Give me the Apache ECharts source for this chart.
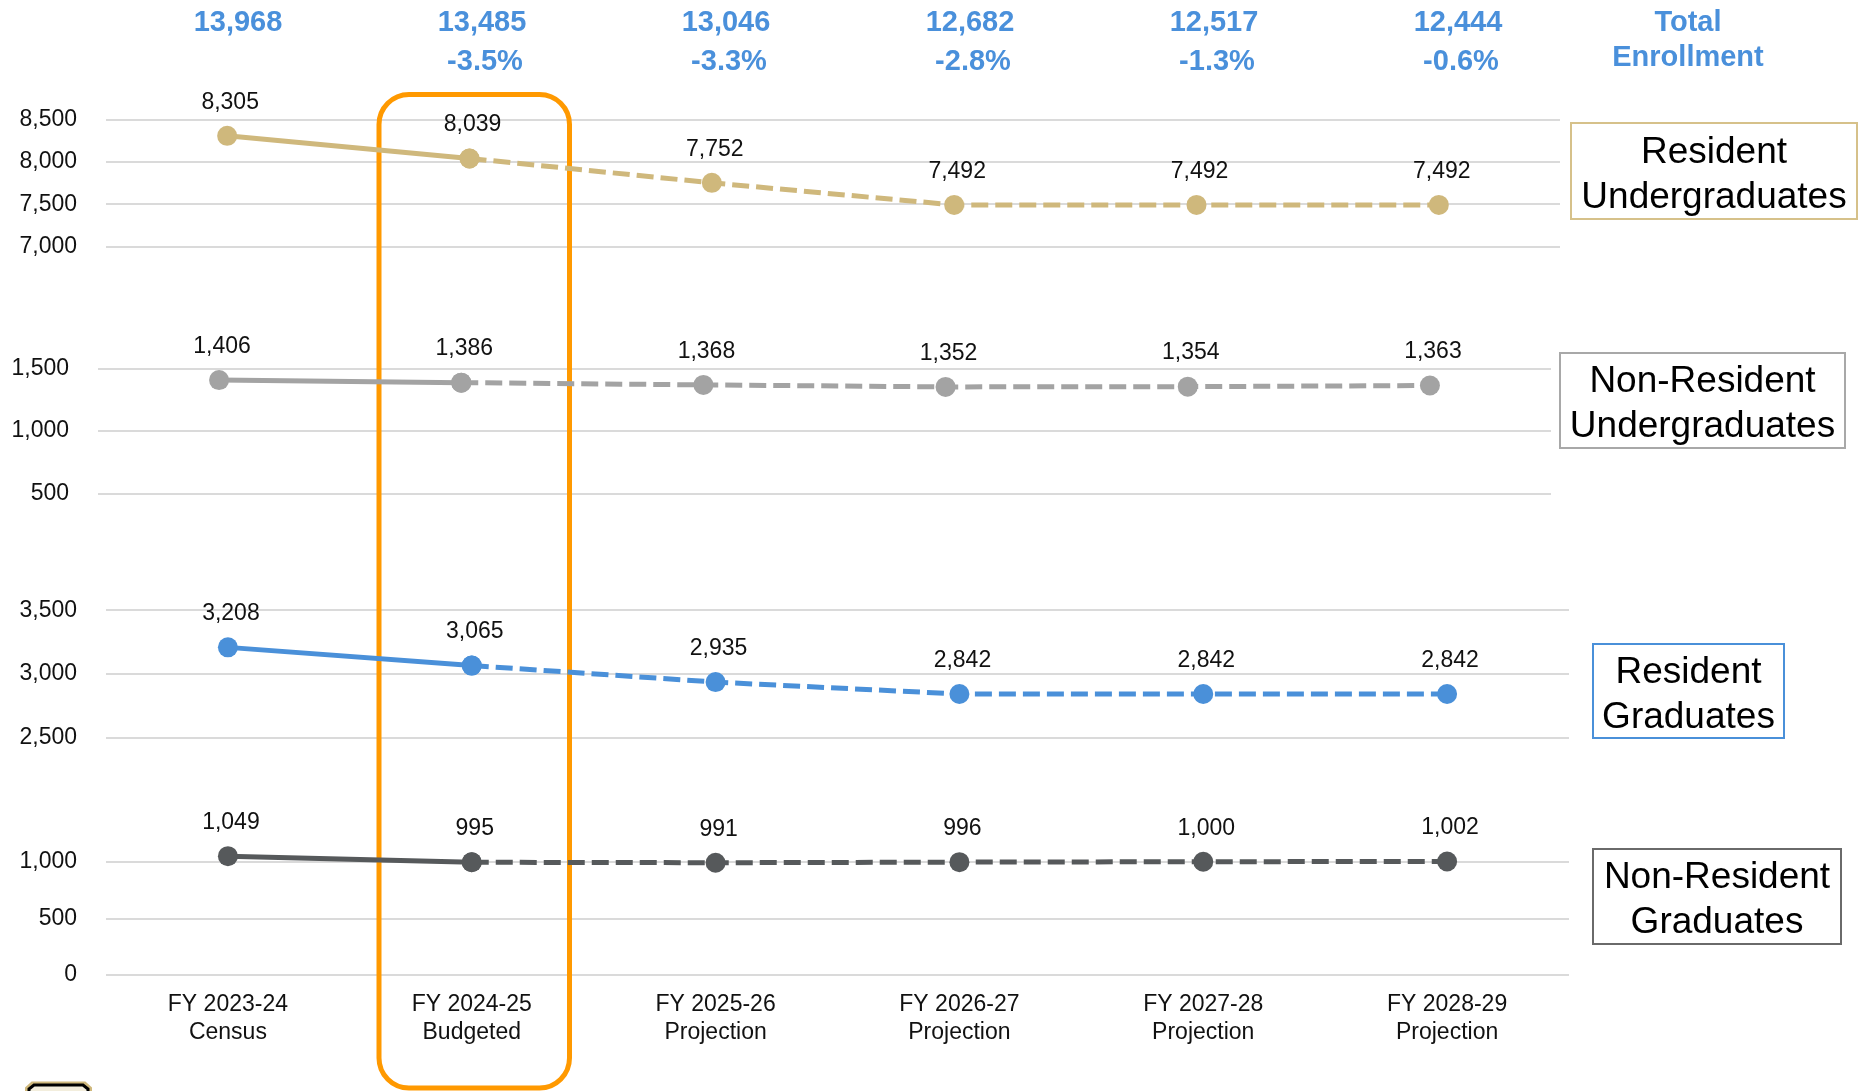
<!DOCTYPE html>
<html>
<head>
<meta charset="utf-8">
<script src="https://cdn.jsdelivr.net/npm/echarts@6/dist/echarts.min.js"></script>
<style>
  html, body { margin: 0; padding: 0; background: #ffffff; }
  #chart { width: 1858px; height: 1091px; }
</style>
</head>
<body>
<div id="chart"></div>
<script>
// Fiscal years shown along the shared horizontal axis
const categories = [
  'FY 2023-24\nCensus',
  'FY 2024-25\nBudgeted',
  'FY 2025-26\nProjection',
  'FY 2026-27\nProjection',
  'FY 2027-28\nProjection',
  'FY 2028-29\nProjection'
];

// Headcount by student group
const residentUndergrad    = [8305, 8039, 7752, 7492, 7492, 7492];
const nonResidentUndergrad = [1406, 1386, 1368, 1352, 1354, 1363];
const residentGrad         = [3208, 3065, 2935, 2842, 2842, 2842];
const nonResidentGrad      = [1049, 995, 991, 996, 1000, 1002];

// Campus-wide totals printed above each year
const totalEnrollment = [13968, 13485, 13046, 12682, 12517, 12444];

// Y-axis ticks for each band
const ticksResidentUndergrad    = [7000, 7500, 8000, 8500];
const ticksNonResidentUndergrad = [500, 1000, 1500];
const ticksResidentGrad         = [2500, 3000, 3500];
const ticksNonResidentGrad      = [0, 500, 1000];

// Band names shown in the boxes on the right
const groupNames = [
  'Resident\nUndergraduates',
  'Non-Resident\nUndergraduates',
  'Resident\nGraduates',
  'Non-Resident\nGraduates'
];

const FONT = '"Liberation Sans", Arial, Helvetica, sans-serif';
const BLUE_TEXT = '#4A90DB';
const LABEL_SIZE = 23;
const fmt = v => Number(v).toLocaleString('en-US');

const colors = ['#CFB87C', '#A3A3A3', '#4A90D9', '#56595B'];
const borderColors = ['#D6C18A', '#A8A8A8', '#4A90D9', '#6A6A6A'];

// Plot bands: one grid per student group
const bands = [
  { values: residentUndergrad,    ticks: ticksResidentUndergrad,    left: 106, width: 1454, top: 119.3, height: 127.4 },
  { values: nonResidentUndergrad, ticks: ticksNonResidentUndergrad, left: 98,  width: 1453, top: 368.3, height: 125.7 },
  { values: residentGrad,         ticks: ticksResidentGrad,         left: 106, width: 1463, top: 610.2, height: 127.3 },
  { values: nonResidentGrad,      ticks: ticksNonResidentGrad,      left: 106, width: 1463, top: 861.7, height: 113.3 }
];

// Legend-style boxes: [x, y, w, h]
const boxes = [
  [1571, 123, 286, 96],
  [1560, 353, 285, 95],
  [1593, 644, 191, 94],
  [1593, 849, 248, 95]
];

const grid = [];
const xAxis = [];
const yAxis = [];
const series = [];

bands.forEach((b, i) => {
  const lo = Math.min(...b.ticks), hi = Math.max(...b.ticks);
  grid.push({ left: b.left, width: b.width, top: b.top, height: b.height, containLabel: false });
  xAxis.push({
    gridIndex: i,
    type: 'category',
    data: categories,
    boundaryGap: true,
    axisLine: { show: false },
    axisTick: { show: false },
    splitLine: { show: false },
    axisLabel: i === 3 ? {
      show: true, interval: 0, margin: 16,
      fontFamily: FONT, fontSize: LABEL_SIZE, lineHeight: 28, color: '#111'
    } : { show: false }
  });
  yAxis.push({
    gridIndex: i,
    type: 'value',
    min: lo, max: hi, interval: b.ticks[1] - b.ticks[0],
    axisLine: { show: false },
    axisTick: { show: false },
    splitLine: { show: true, lineStyle: { color: '#DADADA', width: 2 } },
    axisLabel: { margin: 29, fontFamily: FONT, fontSize: LABEL_SIZE, color: '#111', formatter: v => fmt(v) }
  });

  const color = colors[i];
  const label = {
    show: true, position: 'top', distance: 12, offset: [3, 0],
    fontFamily: FONT, fontSize: LABEL_SIZE, color: '#111',
    formatter: p => fmt(p.value)
  };
  const common = {
    type: 'line', xAxisIndex: i, yAxisIndex: i,
    symbol: 'circle', symbolSize: 20, clip: false,
    itemStyle: { color: color },
    emphasis: { disabled: true },
    animation: false
  };
  // Actual / budgeted segment (solid)
  series.push(Object.assign({}, common, {
    data: b.values.map((v, k) => (k <= 1 ? v : '-')),
    lineStyle: { color: color, width: 5, type: 'solid' },
    label: label
  }));
  // Projection segment (dashed)
  series.push(Object.assign({}, common, {
    data: b.values.map((v, k) => (k >= 1 ? v : '-')),
    lineStyle: { color: color, width: 5, type: [17, 7], cap: 'butt' },
    label: Object.assign({}, label, { formatter: p => (p.dataIndex === 1 ? '' : fmt(p.value)) })
  }));
});

// Header row: totals and year-over-year change
grid.push({ left: 116, width: 1464, top: 81, height: 1 });
xAxis.push({
  gridIndex: 4,
  type: 'category',
  position: 'top',
  data: categories,
  axisLine: { show: false },
  axisTick: { show: false },
  splitLine: { show: false },
  axisLabel: {
    interval: 0, margin: 0,
    formatter: (v, idx) => {
      const t = '{t|' + fmt(totalEnrollment[idx]) + '}';
      if (idx === 0) return t + '\n{p| }';
      const pct = ((totalEnrollment[idx] / totalEnrollment[idx - 1] - 1) * 100).toFixed(1) + '%';
      return t + '\n{p|' + pct + '}';
    },
    rich: {
      t: { fontFamily: FONT, fontSize: 29, fontWeight: 'bold', color: BLUE_TEXT, lineHeight: 39 },
      p: { fontFamily: FONT, fontSize: 29, fontWeight: 'bold', color: BLUE_TEXT, lineHeight: 39, padding: [0, 0, 0, 6] }
    }
  }
});
yAxis.push({ gridIndex: 4, type: 'value', show: false, min: 0, max: 1 });

const graphic = [];

// Highlight around the budgeted year
graphic.push({
  type: 'rect', z: 1, silent: true,
  shape: { x: 379, y: 94.5, width: 190.5, height: 993.5, r: 30 },
  style: { fill: 'none', stroke: '#FF9900', lineWidth: 5 }
});

graphic.push({
  type: 'text', z: 5, silent: true,
  x: 1688, y: 40,
  style: {
    text: 'Total\nEnrollment', align: 'center', verticalAlign: 'middle',
    font: 'bold 29px ' + FONT, lineHeight: 35, fill: BLUE_TEXT
  }
});

boxes.forEach((bx, i) => {
  graphic.push({
    type: 'rect', z: 5, silent: true,
    shape: { x: bx[0], y: bx[1], width: bx[2], height: bx[3] },
    style: { fill: '#ffffff', stroke: borderColors[i], lineWidth: 2 }
  });
  graphic.push({
    type: 'text', z: 6, silent: true,
    x: bx[0] + bx[2] / 2, y: bx[1] + bx[3] / 2 + 4,
    style: {
      text: groupNames[i], align: 'center', verticalAlign: 'middle',
      font: '37px ' + FONT, lineHeight: 45, fill: '#000000'
    }
  });
});

// Emblem peeking in at the lower-left corner
graphic.push({
  type: 'polygon', z: 5, silent: true,
  shape: { points: [[26, 1093], [26, 1088], [32, 1082.5], [85, 1082.5], [91, 1088], [91, 1093]] },
  style: { fill: '#CFB87C', stroke: '#CFB87C', lineWidth: 2 }
});
graphic.push({
  type: 'polygon', z: 6, silent: true,
  shape: { points: [[29, 1093], [29, 1089], [34, 1085], [83, 1085], [88, 1089], [88, 1093]] },
  style: { fill: '#F3EEDD', stroke: '#000000', lineWidth: 3 }
});

const chart = echarts.init(document.getElementById('chart'), null, { renderer: 'canvas' });
chart.setOption({
  animation: false,
  backgroundColor: '#ffffff',
  grid: grid,
  xAxis: xAxis,
  yAxis: yAxis,
  series: series,
  graphic: graphic
});
</script>
</body>
</html>
